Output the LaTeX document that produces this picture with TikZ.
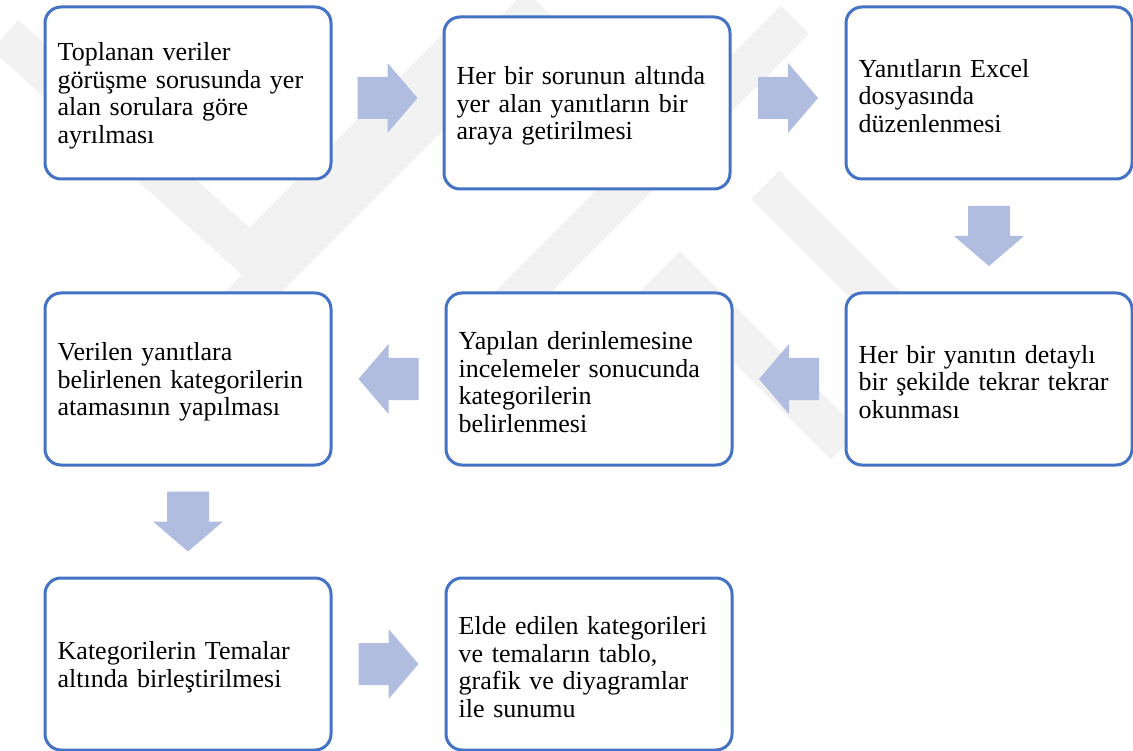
\documentclass[tikz,border=0pt]{standalone}
\usepackage{fontspec}
\setmainfont{Liberation Serif}
\usetikzlibrary{calc}
\definecolor{boxblue}{HTML}{4472C4}
\definecolor{arrowblue}{HTML}{B0BCE0}
\definecolor{wmgray}{HTML}{F2F2F2}
\tikzset{
  stepbox/.style={draw=boxblue, line width=3pt, rounded corners=16pt, fill=white,
    minimum width=286pt, minimum height=172pt, inner sep=0pt},
  steptext/.style={anchor=west, inner sep=0pt, text width=272pt, align=left,
    font=\fontsize{26}{27.5}\selectfont},
  wm/.style={draw=wmgray, line width=40pt},
  blockarrow/.pic={\fill[arrowblue] (-30,-21) -- (0,-21) -- (0,-35) -- (30,0)
    -- (0,35) -- (0,21) -- (-30,21) -- cycle;}
}
\begin{document}
\begin{tikzpicture}[x=1pt,y=-1pt]
\fill[white] (0,0) rectangle (1133,751);
\useasboundingbox (0,0) rectangle (1133,751);
% faint watermark
\draw[wm] (5,35) -- (250,255) -- (475,30);
\draw[wm] (215,330) -- (540,5);
\draw[wm] (795,20) -- (560,255) -- (470,345);
\draw[wm] (765,185) -- (895,315);
\draw[wm] (560,400) -- (680,280) -- (845,445);
% boxes
\node[stepbox] (b1) at (188,93) {};
\node[stepbox] (b2) at (587,103) {};
\node[stepbox] (b3) at (989,93) {};
\node[stepbox] (b4) at (989,379) {};
\node[stepbox] (b5) at (589,379) {};
\node[stepbox] (b6) at (188,379) {};
\node[stepbox] (b7) at (188,664) {};
\node[stepbox] (b8) at (589,664) {};
% texts
\node[steptext] (t1) at ([xshift=14pt,yshift=-3pt]b1.west) {Toplanan veriler\\görüşme sorusunda yer\\alan sorulara göre\\ayrılması};
\node[steptext] (t2) at ([xshift=14pt,yshift=-3pt]b2.west) {Her bir sorunun altında\\yer alan yanıtların bir\\araya getirilmesi};
\node[steptext] (t3) at ([xshift=14pt,yshift=-3pt]b3.west) {Yanıtların Excel\\dosyasında\\düzenlenmesi};
\node[steptext] (t4) at ([xshift=14pt,yshift=-3pt]b4.west) {Her bir yanıtın detaylı\\bir şekilde tekrar tekrar\\okunması};
\node[steptext] (t5) at ([xshift=14pt,yshift=-3pt]b5.west) {Yapılan derinlemesine\\incelemeler sonucunda\\kategorilerin\\belirlenmesi};
\node[steptext] (t6) at ([xshift=14pt,yshift=-3pt]b6.west) {Verilen yanıtlara\\belirlenen kategorilerin\\atamasının yapılması};
\node[steptext] (t7) at ([xshift=14pt,yshift=-3pt]b7.west) {Kategorilerin Temalar\\altında birleştirilmesi};
\node[steptext] (t8) at ([xshift=14pt,yshift=-3pt]b8.west) {Elde edilen kategorileri\\ve temaların tablo,\\grafik ve diyagramlar\\ile sunumu};
% block arrows
\pic (a1) at ($(b1.east)!0.5!(b2.west)$) {blockarrow};
\pic (a2) at ($(b2.east)!0.5!(b3.west)$) {blockarrow};
\pic[rotate=-90] (a3) at ($(b3.south)!0.5!(b4.north)$) {blockarrow};
\pic[rotate=180] (a4) at ($(b4.west)!0.5!(b5.east)$) {blockarrow};
\pic[rotate=180] (a5) at ($(b5.west)!0.5!(b6.east)$) {blockarrow};
\pic[rotate=-90] (a6) at ($(b6.south)!0.5!(b7.north)$) {blockarrow};
\pic (a7) at ($(b7.east)!0.5!(b8.west)$) {blockarrow};
\end{tikzpicture}
\end{document}
